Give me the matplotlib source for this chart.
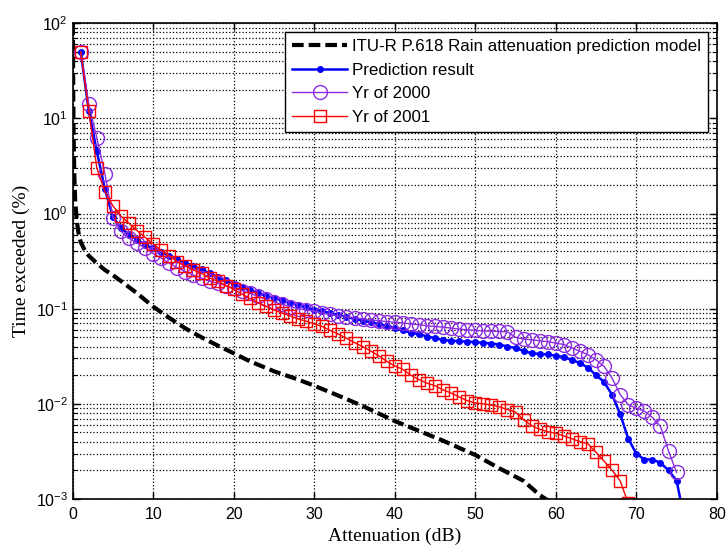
import numpy as np
import matplotlib
matplotlib.use("Agg")
import matplotlib.pyplot as plt
from matplotlib.ticker import LogLocator, FuncFormatter, NullFormatter

plt.rcParams['font.family'] = ['Liberation Sans', 'DejaVu Sans']
plt.rcParams['mathtext.default'] = 'regular'

# ITU-R P.618 model curve
itu_x = [0.02, 0.05, 0.1, 0.2, 0.3, 0.5, 0.75, 1, 1.5, 2, 3, 4, 5, 6, 8, 10, 12, 14,
         16, 18, 20, 22, 25, 28, 30, 33, 36, 40, 43, 46, 50, 53, 56, 58, 60, 62]
itu_y = [100, 30, 8, 2.5, 1.4, 0.85, 0.6, 0.5, 0.41, 0.36, 0.30, 0.255, 0.225, 0.195,
         0.145, 0.105, 0.08, 0.062, 0.05, 0.041, 0.034, 0.028, 0.022, 0.018, 0.0155,
         0.0122, 0.0095, 0.0066, 0.0052, 0.0041, 0.0029, 0.0021, 0.00155, 0.0011,
         0.00085, 0.0006]

# prediction result, 1..76 dB
pred_x = list(range(1, 77))
pred_y = [50, 12, 4.5, 1.8, 0.92, 0.70, 0.60, 0.53, 0.47, 0.43,
          0.39, 0.36, 0.33, 0.30, 0.28, 0.26, 0.235, 0.216, 0.198, 0.182,
          0.168, 0.156, 0.146, 0.137, 0.129, 0.122, 0.115, 0.109, 0.103, 0.098,
          0.094, 0.090, 0.086, 0.082, 0.078, 0.075, 0.072, 0.069, 0.066, 0.063,
          0.059, 0.056, 0.054, 0.051, 0.049, 0.047, 0.046, 0.0455, 0.045, 0.0445,
          0.0438, 0.043, 0.042, 0.040, 0.0386, 0.036, 0.034, 0.0335, 0.033, 0.032,
          0.031, 0.029, 0.0268, 0.024, 0.020, 0.017, 0.0124, 0.0078, 0.0043, 0.0030,
          0.0026, 0.0026, 0.0024, 0.0020, 0.00156, 0.0006]

# measured, year 2000, 1..75 dB
y2000_x = list(range(1, 76))
y2000_y = [50, 14, 6.2, 2.6, 0.90, 0.65, 0.55, 0.49, 0.43, 0.38,
           0.34, 0.30, 0.27, 0.245, 0.225, 0.21, 0.195, 0.185, 0.175, 0.165,
           0.155, 0.145, 0.135, 0.126, 0.118, 0.111, 0.105, 0.100, 0.097, 0.094,
           0.090, 0.087, 0.084, 0.082, 0.080, 0.078, 0.076, 0.075, 0.073, 0.072,
           0.071, 0.069, 0.068, 0.066, 0.065, 0.064, 0.0625, 0.061, 0.060, 0.059,
           0.0585, 0.058, 0.0577, 0.057, 0.050, 0.048, 0.047, 0.046, 0.045, 0.0435,
           0.042, 0.0386, 0.0356, 0.0328, 0.029, 0.0247, 0.0186, 0.0125, 0.0098, 0.0090,
           0.0084, 0.0072, 0.0058, 0.0032, 0.0019]

# measured, year 2001, 1..69 dB
y2001_x = list(range(1, 70))
y2001_y = [50, 12, 3.0, 1.7, 1.2, 0.94, 0.79, 0.66, 0.56, 0.48,
           0.41, 0.36, 0.31, 0.28, 0.255, 0.235, 0.21, 0.195, 0.175, 0.16,
           0.143, 0.128, 0.116, 0.106, 0.097, 0.090, 0.084, 0.078, 0.074, 0.069,
           0.065, 0.059, 0.054, 0.049, 0.044, 0.040, 0.036, 0.032, 0.028, 0.025,
           0.023, 0.020, 0.018, 0.0165, 0.0155, 0.014, 0.013, 0.0118, 0.0108, 0.0102,
           0.0100, 0.0097, 0.0093, 0.0087, 0.0082, 0.0068, 0.0059, 0.0054, 0.0051, 0.0049,
           0.0046, 0.0043, 0.0040, 0.0038, 0.0031, 0.0025, 0.0020, 0.00155, 0.0009]

fig = plt.figure(figsize=(7.27, 5.52), dpi=100)
ax = fig.add_axes([0.100, 0.096, 0.886, 0.862])

ax.semilogy(itu_x, itu_y, color='k', lw=3, dashes=(2.8, 1.2),
            label='ITU-R P.618 Rain attenuation prediction model')
ax.semilogy(pred_x, pred_y, color='#0000ff', lw=1.8, marker='o', ms=4,
            label='Prediction result')
ax.semilogy(y2000_x, y2000_y, color='#8b2be2', lw=1, marker='o', ms=10,
            mfc='none', mec='#8b2be2', mew=1, label='Yr of 2000')
ax.semilogy(y2001_x, y2001_y, color='#ff0000', lw=1, marker='s', ms=9,
            mfc='none', mec='#ff0000', mew=1, label='Yr of 2001')

ax.set_xlim(0, 80)
ax.set_ylim(1e-3, 1e2)
ax.set_xticks(range(0, 81, 10))
ax.yaxis.set_major_locator(LogLocator(base=10, numticks=10))
ax.yaxis.set_minor_locator(LogLocator(base=10, subs=np.arange(2, 10), numticks=100))
ax.yaxis.set_minor_formatter(NullFormatter())
ax.yaxis.set_major_formatter(FuncFormatter(lambda v, p: r'$10^{%d}$' % round(np.log10(v))))

ax.grid(which='major', axis='x', color='k', ls=':', lw=0.9)
ax.grid(which='both', axis='y', color='k', ls=':', lw=0.9)
ax.tick_params(which='both', direction='in', top=True, right=True, labelsize=11.5)
ax.tick_params(which='major', length=5, width=1)
ax.tick_params(axis='x', which='major', pad=6)
ax.tick_params(which='minor', length=3, width=0.8)
for s in ax.spines.values():
    s.set_linewidth(1.2)

ax.set_xlabel('Attenuation (dB)', family=['Liberation Serif'], fontsize=14, labelpad=4)
ax.set_ylabel('Time exceeded (%)', family=['Liberation Serif'], fontsize=14, labelpad=4)

leg = ax.legend(loc='upper right', fontsize=12.2, handlelength=3.2, fancybox=False,
                framealpha=1, edgecolor='k', borderaxespad=0.5, labelspacing=0.5,
                handletextpad=0.3, borderpad=0.45)
leg.get_frame().set_linewidth(1.0)

fig.savefig('out.png', dpi=100)
